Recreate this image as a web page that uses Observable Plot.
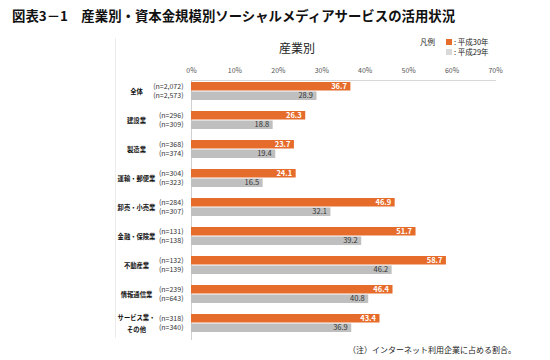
<!DOCTYPE html>
<html><head><meta charset="utf-8">
<script src="https://cdn.jsdelivr.net/npm/d3@7"></script>
<script src="https://cdn.jsdelivr.net/npm/@observablehq/plot@0.6"></script>
<style>
body{margin:0;background:#fff;font-family:"Noto Sans CJK JP",sans-serif;}
#wrap{position:relative;width:550px;height:360px;overflow:hidden;}
.abs{position:absolute;white-space:nowrap;color:#222;}
#chart{position:absolute;left:0;top:0;}
</style></head>
<body>
<div id="wrap">
  <div id="chart"></div>
  <div class="abs" style="left:12px;top:5px;font-size:13.4px;font-weight:bold;color:#111;">図表3－1　産業別・資本金規模別ソーシャルメディアサービスの活用状況</div>
  <div style="position:absolute;left:115px;top:38px;width:0;height:300px;border-left:1px solid #ececec;"></div>
  <div class="abs" style="left:279px;top:39px;font-size:12px;">産業別</div>
  <div class="abs" style="left:420px;top:37px;font-size:7.5px;line-height:10px;">凡例</div>
  <div class="abs" style="left:446px;top:37px;font-size:7.5px;line-height:10px;"><span style="display:inline-block;width:6px;height:6px;background:#E66C2C;margin-right:2px;"></span>: 平成30年<br><span style="display:inline-block;width:6px;height:6px;background:#d9d9d9;margin-right:2px;"></span>: 平成29年</div>
  <div class="abs" style="left:348px;top:344px;font-size:8px;">（注）インターネット利用企業に占める割合。</div>
</div>
<script>
const categories = ["全体","建設業","製造業","運輸・郵便業","卸売・小売業","金融・保険業","不動産業","情報通信業","サービス業・\nその他"];
const h30 = [36.7,26.3,23.7,24.1,46.9,51.7,58.7,46.4,43.4];
const h29 = [28.9,18.8,19.4,16.5,32.1,39.2,46.2,40.8,36.9];
const n30 = ["2,072","296","368","304","284","131","132","239","318"];
const n29 = ["2,573","309","374","323","307","138","139","643","340"];
const xTicks = [0,10,20,30,40,50,60,70];

const data = categories.map((c,i)=>({c, a:h30[i], b:h29[i], na:n30[i], nb:n29[i]}));
const orange = "#E66C2C", gray = "#BFBFBF";

const chart = Plot.plot({
  width:550, height:360,
  marginLeft:191, marginRight:55, marginTop:80, marginBottom:20,
  style:{fontFamily:"'Noto Sans CJK JP', sans-serif", background:"transparent"},
  x:{domain:[0,70], ticks:xTicks, tickFormat:d=>d+"%", axis:"top", tickSize:0, tickPadding:8, label:null},
  y:{domain:categories, range:[81,333], paddingInner:0.38, paddingOuter:0, axis:null},
  marks:[
    Plot.ruleX([0],{stroke:"#d0d0d0"}),
    Plot.frame({anchor:"top", stroke:"#d8d8d8"}),
    Plot.barX(data,{x:"a", y:"c", fill:orange, insetBottom:9.5}),
    Plot.barX(data,{x:"b", y:"c", fill:gray, insetTop:9.5}),
    Plot.text(data,{x:"a", y:"c", text:d=>d.a.toFixed(1), dy:-4.5, dx:-4, textAnchor:"end", fill:"white", fontWeight:"bold", fontSize:7.5}),
    Plot.text(data,{x:"b", y:"c", text:d=>d.b.toFixed(1), dy:4.5, dx:-4, textAnchor:"end", fill:"#333", fontSize:7.5}),
    Plot.text(data,{x:()=>0, y:"c", text:d=>"(n="+d.na+")", dy:-4.5, dx:-8, textAnchor:"end", fill:"#333", fontSize:7}),
    Plot.text(data,{x:()=>0, y:"c", text:d=>"(n="+d.nb+")", dy:4.5, dx:-8, textAnchor:"end", fill:"#333", fontSize:7}),
    Plot.text(data,{x:()=>0, y:"c", text:"c", dx:-55, dy:-1.5, textAnchor:"middle", fill:"#111", fontSize:6.3, fontWeight:600, lineHeight:1.85, ariaLabel:"category-labels"})
  ]
});
const ax = chart.querySelector("g[aria-label='x-axis tick label']");
if (ax) { ax.setAttribute("font-size","7"); ax.setAttribute("fill","#555"); }
const cl = chart.querySelector("g[aria-label='category-labels']");
if (cl) cl.setAttribute("letter-spacing","0.3");
document.getElementById("chart").appendChild(chart);
</script>
</body></html>
